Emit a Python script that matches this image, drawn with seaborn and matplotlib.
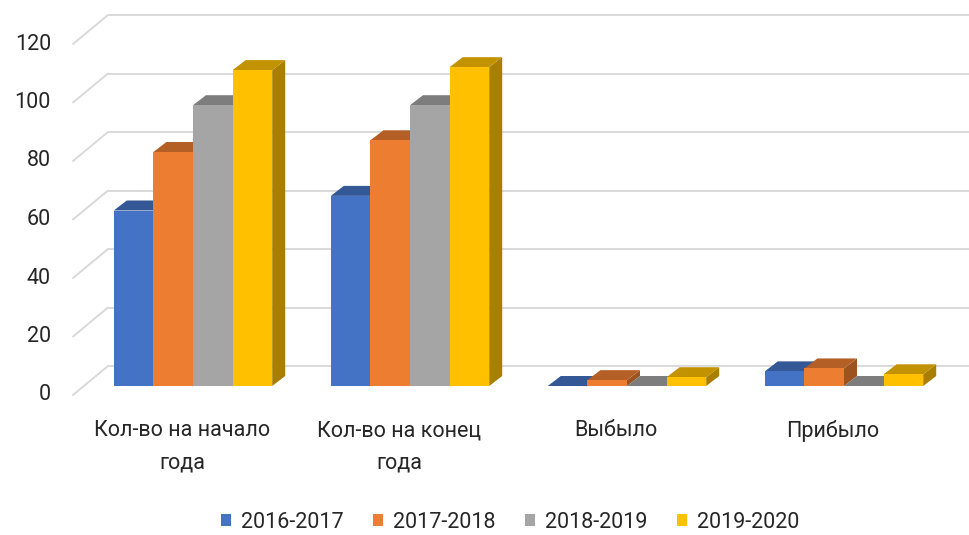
import pandas as pd
import numpy as np
import seaborn as sns
import matplotlib.pyplot as plt
from matplotlib.patches import Polygon
from matplotlib.colors import to_rgb

categories = ['Кол-во на начало\nгода', 'Кол-во на конец\nгода', 'Выбыло', 'Прибыло']
periods = ['2016-2017', '2017-2018', '2018-2019', '2019-2020']
vals_2016 = [60, 65, 0, 5]
vals_2017 = [80, 84, 2, 6]
vals_2018 = [96, 96, 0, 0]
vals_2019 = [108, 109, 3, 4]
y_ticks = [0, 20, 40, 60, 80, 100, 120]

colors = ['#4472C4', '#ED7D31', '#A5A5A5', '#FFC000']

df = pd.DataFrame({
    'cat': categories * 4,
    'period': np.repeat(periods, 4),
    'val': vals_2016 + vals_2017 + vals_2018 + vals_2019,
})

sns.set_style('white')
plt.rcParams['font.family'] = ['Roboto', 'DejaVu Sans']

# pixel scales of the chart (bar front plane)
sx = 217.0    # px per category
sy = 2.925    # px per value unit
W, H = 970, 535
fs = 15.5
txt_c = '#262626'

fig = plt.figure(figsize=(9.7, 5.35), dpi=100)
ax_l, ax_r, ax_t, ax_b = 60, 970, 0, 410
ax = fig.add_axes([ax_l / W, 1 - ax_b / H, (ax_r - ax_l) / W, (ax_b - ax_t) / H])

# depth offsets in data units
ddx, ddy = 13 / sx, 10 / sy      # bar depth
wx, wy = 24 / sx, 20 / sy        # back wall
fx, fy = -11 / sx, -9 / sy       # front edge
x_left = (84 - 193) / sx

grid_c = '#D9D9D9'
for v in y_ticks:
    ax.plot([x_left + wx, (ax_r - 193) / sx], [v + wy, v + wy], color=grid_c, lw=1.4,
            zorder=0, clip_on=False, solid_capstyle='butt')
    ax.plot([x_left + fx, x_left + wx], [v + fy, v + wy], color=grid_c, lw=1.4,
            zorder=0, clip_on=False)
    ax.text(x_left + fx - 22 / sx, v + fy, str(v), ha='right', va='center',
            fontsize=fs, color=txt_c)

sns.barplot(data=df, x='cat', y='val', hue='period', palette=colors, hue_order=periods,
            order=categories, width=0.73, saturation=1, errorbar=None, ax=ax,
            linewidth=0, zorder=2)
ax.set_xlim((ax_l - 193) / sx, (ax_r - 193) / sx)
ax.set_ylim(-(ax_b - 386) / sy, 386 / sy)
ax.axis('off')

handles, labels = ax.get_legend_handles_labels()
if ax.get_legend() is not None:
    ax.get_legend().remove()

# 3D faces: painter's order left to right
bars = sorted(ax.patches, key=lambda p: p.get_x())
z = 3
for p in bars:
    x0, w, h = p.get_x(), p.get_width(), p.get_height()
    base = np.array(to_rgb(p.get_facecolor()))
    side = Polygon([(x0 + w, 0), (x0 + w + ddx, ddy), (x0 + w + ddx, h + ddy), (x0 + w, h)],
                   closed=True, facecolor=base * 0.66, edgecolor='none', zorder=z)
    top = Polygon([(x0, h), (x0 + w, h), (x0 + w + ddx, h + ddy), (x0 + ddx, h + ddy)],
                  closed=True, facecolor=base * 0.76, edgecolor='none', zorder=z + 1)
    ax.add_patch(side)
    ax.add_patch(top)
    p.set_zorder(z + 2)
    z += 3

for i, c in enumerate(categories):
    ax.text(i + fx, (386 - 420) / sy, c, ha='center', va='top', fontsize=fs,
            color=txt_c, linespacing=1.7, multialignment='center')

fig.legend(handles, labels, loc='center', bbox_to_anchor=(510 / W, 1 - 522 / H), ncol=4,
           frameon=False, fontsize=fs, handlelength=0.5, handleheight=0.5,
           handletextpad=0.45, columnspacing=1.35, labelcolor=txt_c)

fig.savefig('out.png', dpi=100)
